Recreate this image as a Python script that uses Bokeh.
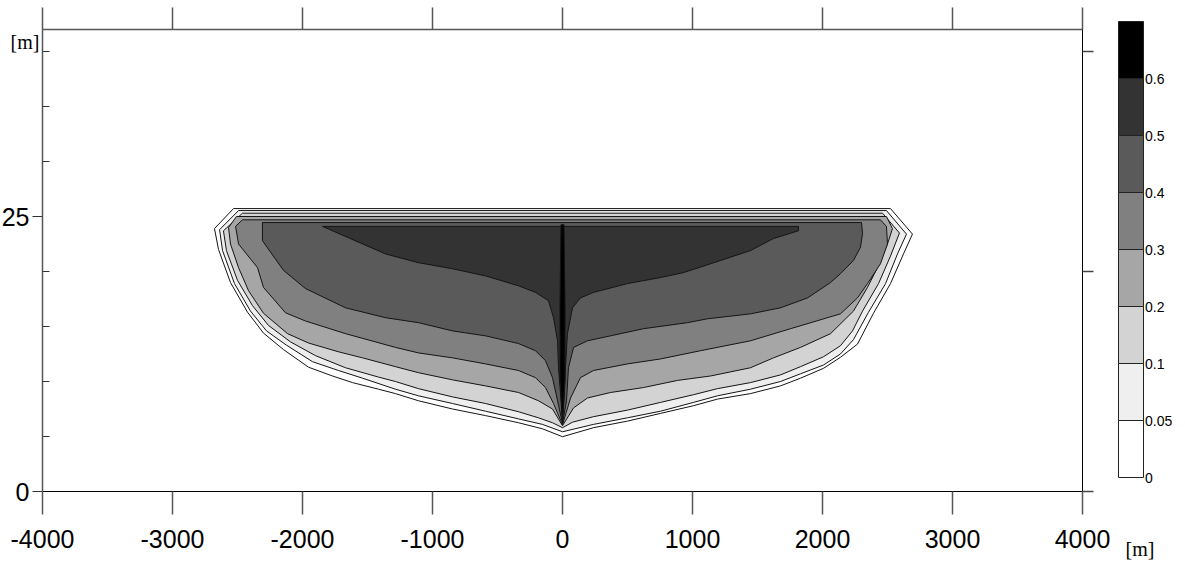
from bokeh.plotting import figure
from bokeh.models import Range1d, LinearAxis, FixedTicker, Label
from bokeh.core.properties import value
from bokeh.embed import file_html
from bokeh.resources import INLINE

# ---- contour levels and their fills -------------------------------------
levels = [0, 0.05, 0.1, 0.2, 0.3, 0.4, 0.5, 0.6]
level_labels = ["0", "0.05", "0.1", "0.2", "0.3", "0.4", "0.5", "0.6"]
band_colors = ["#ffffff", "#efefef", "#d3d3d3", "#a6a6a6",
               "#808080", "#5a5a5a", "#333333", "#000000"]

# ---- outline of each band (distance [m], elevation [m]) -----------------
edge_x_000 = [-2531, -2677, -2646, -2554, -2423, -2300, -2146, -1954, -1769, -1615,
              -1415, -1285, -1108, -846, -592, -338, -154, 0, 238, 500, 754, 1008,
              1192, 1446, 1677, 1831, 2008, 2138, 2269, 2392, 2523, 2623, 2692, 2523]
edge_y_000 = [25.72, 23.9, 22.0, 19.0, 16.3, 14.4, 12.9, 11.3, 10.5, 9.9,
              9.3, 8.9, 8.25, 7.5, 6.9, 6.25, 5.7, 4.98, 5.8, 6.4, 7.1, 7.8,
              8.4, 8.9, 9.6, 10.3, 11.2, 12.2, 13.4, 16.2, 18.9, 21.6, 23.4, 25.72]

edge_x_005 = [-2492, -2638, -2615, -2523, -2400, -2277, -2123, -1923, -1723, -1538,
              -1285, -1108, -846, -592, -338, -154, 0, 238, 500, 754, 1008, 1192,
              1446, 1677, 1831, 2008, 2138, 2238, 2354, 2485, 2577, 2646, 2492]
edge_y_005 = [25.54, 23.8, 21.9, 18.9, 16.4, 14.6, 13.3, 11.8, 11.0, 10.3,
              9.3, 8.7, 8.0, 7.3, 6.6, 6.1, 5.43, 6.1, 6.7, 7.3, 8.1, 8.7,
              9.3, 10.0, 10.7, 11.5, 12.5, 13.8, 16.3, 18.9, 21.6, 23.4, 25.54]

edge_x_010 = [-2462, -2608, -2585, -2500, -2385, -2262, -2092, -1900, -1669, -1415,
              -1285, -1108, -846, -592, -338, -185, -77, 0, 77, 238, 500, 754, 1008,
              1192, 1446, 1677, 1831, 2008, 2138, 2231, 2308, 2431, 2523, 2592, 2462]
edge_y_010 = [25.3, 23.7, 21.9, 19.2, 16.9, 15.1, 13.6, 12.35, 11.25, 10.4,
              10.0, 9.35, 8.6, 8.0, 7.25, 6.7, 6.25, 5.8, 6.3, 6.8, 7.4, 8.1, 8.8,
              9.35, 9.9, 10.6, 11.35, 12.25, 13.25, 14.6, 16.4, 18.9, 21.4, 23.5, 25.3]

edge_x_020 = [-2508, -2569, -2554, -2492, -2415, -2300, -2115, -1954, -1723, -1538,
              -1285, -1108, -846, -592, -338, -185, -77, 0, 85, 192, 369, 623, 885,
              1138, 1446, 1623, 1831, 2062, 2238, 2346, 2423, 2500, 2538, 2492]
edge_y_020 = [25.0, 24.0, 22.5, 20.35, 18.25, 16.2, 14.35, 13.5, 12.7, 12.15,
              11.35, 10.8, 10.15, 9.6, 9.0, 8.25, 7.5, 5.98, 7.6, 8.5, 9.0, 9.45, 10.1,
              10.5, 11.25, 12.15, 13.1, 14.35, 16.4, 18.55, 20.35, 22.5, 23.9, 25.0]

edge_x_030 = [-2462, -2515, -2492, -2346, -2300, -2131, -1977, -1669, -1285, -1108,
              -846, -592, -338, -208, -131, -69, 0, 62, 138, 238, 500, 754, 1062,
              1446, 1754, 2138, 2269, 2346, 2446, 2500, 2492, 2446]
edge_y_030 = [24.7, 24.1, 22.5, 20.35, 18.55, 16.25, 15.5, 14.35, 13.1, 12.6,
              12.15, 11.6, 11.0, 10.35, 9.45, 8.0, 6.07, 8.5, 10.35, 11.0, 11.6, 12.05, 12.8,
              13.7, 14.8, 16.15, 17.6, 18.9, 20.7, 22.5, 24.1, 24.7]

edge_x_040 = [-2308, -2308, -2146, -1977, -1669, -1362, -1108, -846, -592, -338,
              -208, -131, -77, -38, 0, 31, 46, 85, 192, 369, 623, 962, 1115,
              1446, 1677, 1885, 2062, 2138, 2238, 2292, 2308, 2300]
edge_y_040 = [24.45, 22.8, 20.1, 18.45, 16.7, 15.8, 15.35, 14.6, 14.15, 13.45,
              12.8, 11.9, 10.35, 8.25, 6.16, 8.25, 11.25, 13.1, 13.7, 14.15, 14.8, 15.35, 15.7,
              16.15, 16.7, 17.6, 19.0, 19.8, 21.0, 22.2, 23.45, 24.45]

edge_x_050 = [-1846, -1362, -1108, -846, -592, -338, -208, -108, -69, -38,
              -31, -15, 0, 15, 23, 38, 77, 138, 238, 500, 754, 931, 1138,
              1446, 1623, 1815, 1815]
edge_y_050 = [24.1, 21.6, 20.8, 20.25, 19.6, 18.7, 18.1, 17.35, 15.8, 13.7,
              11.25, 8.9, 6.25, 8.9, 11.25, 14.35, 16.7, 17.6, 18.1, 18.9, 19.45, 19.9, 20.7,
              21.9, 23.0, 23.7, 24.1]

edge_x_060 = [-11.5, 11.5, 19, 19, 0, -19, -19]
edge_y_060 = [24.25, 24.25, 17.35, 10.07, 6.43, 10.07, 17.35]

band_xs = [edge_x_000, edge_x_005, edge_x_010, edge_x_020,
           edge_x_030, edge_x_040, edge_x_050, edge_x_060]
band_ys = [edge_y_000, edge_y_005, edge_y_010, edge_y_020,
           edge_y_030, edge_y_040, edge_y_050, edge_y_060]

# ---- axes ---------------------------------------------------------------
X_MIN, X_MAX = -4000, 4000
Y_MIN, Y_MAX = 0, 42
x_ticks = [-4000, -3000, -2000, -1000, 0, 1000, 2000, 3000, 4000]
x_tick_labels = ["-4000", "-3000", "-2000", "-1000", "0", "1000", "2000", "3000", "4000"]
y_major_ticks = [0, 25]
y_major_labels = ["0", "25"]
y_minor_ticks = [5, 10, 15, 20, 30, 35, 40]
y_right_ticks = [0, 20, 40]

TICK_FONT = "Liberation Sans"
UNIT_FONT = "Liberation Serif"

# ---- page geometry (pixels) ---------------------------------------------
CANVAS_W, CANVAS_H = 1185, 564
X_ZERO_PX, X_PX_PER_M = 562, 0.13      # where x = 0 sits, and the x scale
Y_ZERO_PX, Y_PX_PER_M = 491, 11.0      # where y = 0 sits, and the y scale
TOP_TICK_PX, RIGHT_TICK_PX = 22, 11
CB_LEFT_PX, CB_WIDTH_PX = 1118, 25     # colour scale box
CB_BOTTOM_PX, CB_BAND_PX = 477, 57

x_lo = -X_ZERO_PX / X_PX_PER_M
x_hi = (CANVAS_W - X_ZERO_PX) / X_PX_PER_M
y_lo = -(CANVAS_H - Y_ZERO_PX) / Y_PX_PER_M
y_hi = Y_ZERO_PX / Y_PX_PER_M

p = figure(width=CANVAS_W, height=CANVAS_H, title=None, output_backend="svg",
           toolbar_location=None,
           x_range=Range1d(x_lo, x_hi), y_range=Range1d(y_lo, y_hi),
           x_axis_location=None, y_axis_location=None, min_border=0)
p.outline_line_color = None
p.grid.visible = False
p.background_fill_color = "white"
p.border_fill_color = "white"

# filled contour bands, outermost first
p.patches(band_xs, band_ys, fill_color=band_colors, line_color="#141414", line_width=1)

# bottom axis with the distance labels
bottom = LinearAxis(fixed_location=Y_MIN, bounds=(X_MIN, X_MAX),
                    ticker=FixedTicker(ticks=x_ticks, minor_ticks=[]),
                    major_label_overrides=dict(zip(x_ticks, x_tick_labels)),
                    major_tick_out=23, major_tick_in=0, minor_tick_out=0, minor_tick_in=0,
                    axis_line_color="#000000", major_tick_line_color="#555555",
                    major_tick_line_width=1.5,
                    major_label_text_font=TICK_FONT, major_label_text_font_size="25px",
                    major_label_text_color="#000000", major_label_standoff=15)
p.add_layout(bottom, "below")

# left axis with the elevation labels
left = LinearAxis(fixed_location=X_MIN, bounds=(Y_MIN, Y_MAX),
                  ticker=FixedTicker(ticks=y_major_ticks, minor_ticks=y_minor_ticks),
                  major_label_overrides=dict(zip(y_major_ticks, y_major_labels)),
                  major_tick_out=10, major_tick_in=0, minor_tick_out=0, minor_tick_in=7,
                  axis_line_color="#555555", axis_line_width=1.5,
                  major_tick_line_color="#333333", minor_tick_line_color="#333333",
                  major_label_text_font=TICK_FONT, major_label_text_font_size="25px",
                  major_label_text_color="#000000", major_label_standoff=3)
p.add_layout(left, "left")

# top edge and its ticks
top_tick_len = TOP_TICK_PX / Y_PX_PER_M
p.segment(x0=[X_MIN], y0=[Y_MAX], x1=[X_MAX], y1=[Y_MAX],
          line_color="#555555", line_width=1.5)
p.segment(x0=x_ticks, y0=[Y_MAX] * len(x_ticks), x1=x_ticks,
          y1=[Y_MAX + top_tick_len] * len(x_ticks),
          line_color="#555555", line_width=1.5)

# right edge and its ticks
right_tick_len = RIGHT_TICK_PX / X_PX_PER_M
p.segment(x0=[X_MAX], y0=[Y_MIN], x1=[X_MAX], y1=[Y_MAX],
          line_color="#000000", line_width=1)
p.segment(x0=[X_MAX] * len(y_right_ticks), y0=y_right_ticks,
          x1=[X_MAX + right_tick_len] * len(y_right_ticks), y1=y_right_ticks,
          line_color="#444444", line_width=1.5)

# unit labels
p.add_layout(Label(x=(10 - X_ZERO_PX) / X_PX_PER_M, y=(Y_ZERO_PX - 41) / Y_PX_PER_M,
                   text="[m]", text_font=UNIT_FONT, text_font_size="20px",
                   text_color="#000000", text_align="left", text_baseline="alphabetic"))
p.add_layout(Label(x=(1125 - X_ZERO_PX) / X_PX_PER_M, y=(Y_ZERO_PX - 548) / Y_PX_PER_M,
                   text="[m]", text_font=UNIT_FONT, text_font_size="20px",
                   text_color="#000000", text_align="left", text_baseline="alphabetic"))

# ---- colour scale: one equal band per level -----------------------------
n = len(levels)
p.extra_x_ranges = {"cb": Range1d(-CB_LEFT_PX / CB_WIDTH_PX,
                                  (CANVAS_W - CB_LEFT_PX) / CB_WIDTH_PX)}
p.extra_y_ranges = {"cb": Range1d(-(CANVAS_H - CB_BOTTOM_PX) / CB_BAND_PX,
                                  CB_BOTTOM_PX / CB_BAND_PX)}
p.quad(left=0, right=1, bottom=list(range(n)), top=list(range(1, n + 1)),
       fill_color=band_colors, line_color="#222222", line_width=1,
       x_range_name="cb", y_range_name="cb")
p.text(x=[1.06] * n, y=list(range(n)), text=level_labels,
       x_range_name="cb", y_range_name="cb",
       text_font=value(TICK_FONT), text_font_size="14px", text_color="#000000",
       text_align="left", text_baseline="middle")

open("out.html", "w").write(file_html(p, INLINE))
